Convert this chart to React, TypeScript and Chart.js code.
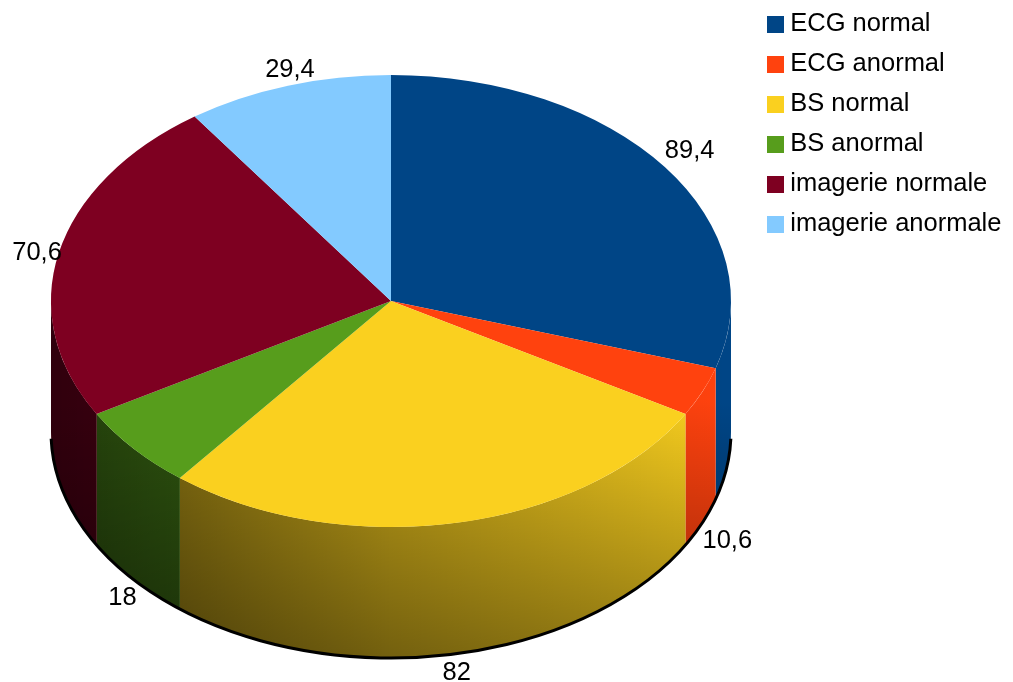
import React, { useEffect, useRef } from "react";
import { Chart, registerables } from "chart.js";

Chart.register(...registerables);

const categories = ["ECG normal", "ECG anormal", "BS normal", "BS anormal", "imagerie normale", "imagerie anormale"];
const values = [89.4, 10.6, 82, 18, 70.6, 29.4];
const colors = ["#004586", "#ff420e", "#fad01f", "#579d1c", "#7e0021", "#83caff"];

const FONT = '"Liberation Sans", Arial, sans-serif';
const FONT_SIZE = 25.5;
const CX = 391;
const CY = 301;
const RX = 340;
const RY = 226;
const DEPTH = 131;
const PI = Math.PI;

function swatch(color: string) {
  const c = document.createElement("canvas");
  c.width = 17;
  c.height = 17;
  const g = c.getContext("2d")!;
  g.fillStyle = color;
  g.fillRect(0, 0, 17, 17);
  return c;
}

const pie3d = {
  id: "pie3d",
  afterLayout(chart: any) {
    if (chart.legend) {
      chart.legend.left = 758;
      chart.legend.top = -3;
    }
  },
  beforeDatasetsDraw(chart: any) {
    const ctx = chart.ctx;
    const arcs = chart.getDatasetMeta(0).data;
    // side wall, in canvas coordinates
    arcs.forEach((arc: any, i: number) => {
      const a = Math.max(arc.startAngle, 0);
      const b = Math.min(arc.endAngle, PI);
      if (b <= a) return;
      const wall = () => {
        ctx.beginPath();
        ctx.ellipse(CX, CY, RX, RY, 0, a, b);
        ctx.ellipse(CX, CY + DEPTH, RX, RY, 0, b, a, true);
        ctx.closePath();
      };
      ctx.save();
      wall();
      ctx.fillStyle = colors[i];
      ctx.fill();
      const h = ctx.createLinearGradient(CX - RX, 0, CX + RX, 0);
      h.addColorStop(0, "rgba(0,0,0,0.62)");
      h.addColorStop(0.19, "rgba(0,0,0,0.48)");
      h.addColorStop(0.5, "rgba(0,0,0,0.23)");
      h.addColorStop(0.93, "rgba(0,0,0,0.02)");
      h.addColorStop(1, "rgba(0,0,0,0)");
      ctx.fillStyle = h;
      ctx.fill();
      const v = ctx.createLinearGradient(0, CY + 100, 0, CY + RY + DEPTH);
      v.addColorStop(0, "rgba(0,0,0,0)");
      v.addColorStop(1, "rgba(0,0,0,0.4)");
      ctx.fillStyle = v;
      ctx.fill();
      ctx.restore();
    });
    // dark rim along the base
    ctx.save();
    ctx.strokeStyle = "#000";
    ctx.lineWidth = 3;
    ctx.beginPath();
    ctx.ellipse(CX, CY + DEPTH, RX, RY, 0, 0.03, PI - 0.03);
    ctx.stroke();
    ctx.restore();
    // squash the flat pie into the top ellipse
    const first = arcs[0];
    const s = RX / first.outerRadius;
    ctx.save();
    ctx.translate(CX, CY);
    ctx.scale(s, (s * RY) / RX);
    ctx.translate(-first.x, -first.y);
  },
  afterDatasetsDraw(chart: any) {
    chart.ctx.restore();
  },
  afterDraw(chart: any) {
    const ctx = chart.ctx;
    const arcs = chart.getDatasetMeta(0).data;
    ctx.save();
    ctx.font = `${FONT_SIZE}px ${FONT}`;
    ctx.fillStyle = "#000";
    arcs.forEach((arc: any, i: number) => {
      const mid = (arc.startAngle + arc.endAngle) / 2;
      const cos = Math.cos(mid);
      const sin = Math.sin(mid);
      const x = CX + RX * cos;
      const y = CY + RY * sin + (sin > 0.3 ? DEPTH : 0);
      ctx.textAlign = cos > 0.35 ? "left" : cos < -0.35 ? "right" : "center";
      ctx.textBaseline = sin > 0.3 ? "top" : sin < -0.3 ? "bottom" : "middle";
      const gx = cos > 0.35 ? 0 : cos < -0.35 ? 3 : 2;
      const gy = sin > 0.3 ? 6 : sin < -0.3 ? -3 : 0;
      ctx.fillText(String(values[i]).replace(".", ","), x + gx, y + gy);
    });
    ctx.restore();
  },
};

export default function App() {
  const ref = useRef<HTMLCanvasElement>(null);
  useEffect(() => {
    const chart = new Chart(ref.current!, {
      type: "pie",
      data: {
        labels: categories,
        datasets: [{ data: values, backgroundColor: colors, borderWidth: 0, clip: false } as any],
      },
      plugins: [pie3d],
      options: {
        responsive: false,
        animation: false,
        layout: { padding: 0 },
        plugins: {
          tooltip: { enabled: false },
          legend: {
            position: "right",
            align: "start",
            labels: {
              usePointStyle: true,
              boxWidth: 5,
              boxHeight: 17,
              padding: 14.5,
              color: "#000",
              font: { family: FONT, size: FONT_SIZE },
              generateLabels(c: any) {
                const base = (Chart as any).overrides.doughnut.plugins.legend.labels.generateLabels(c);
                return base.map((item: any, i: number) => ({ ...item, pointStyle: swatch(colors[i]) }));
              },
            },
          },
        },
      } as any,
    });
    return () => chart.destroy();
  }, []);
  return (
    <div style={{ position: "fixed", left: 0, top: 0, width: 1013, height: 682, background: "#fff" }}>
      <canvas ref={ref} width={1013} height={682} style={{ display: "block" }} />
    </div>
  );
}
